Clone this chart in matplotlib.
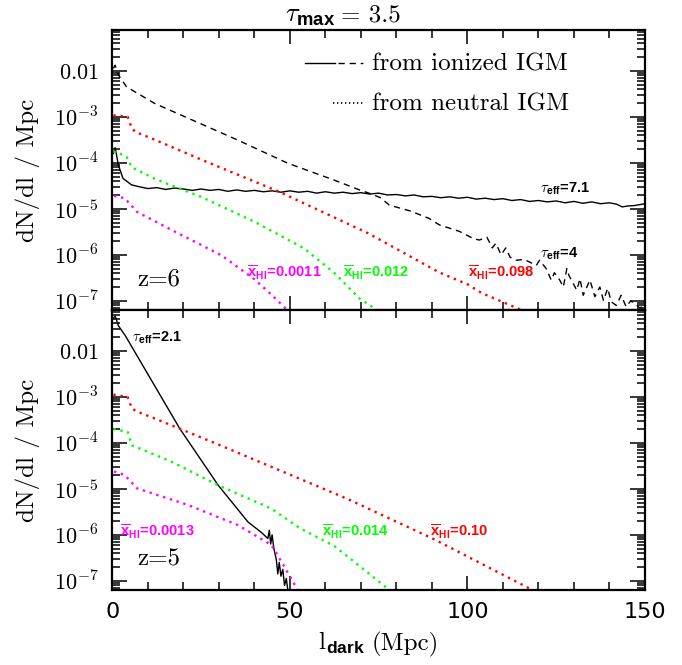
import numpy as np
import matplotlib
matplotlib.use('Agg')
import matplotlib.pyplot as plt
from matplotlib.lines import Line2D
from matplotlib.ticker import MultipleLocator, FixedLocator, FuncFormatter, NullFormatter

plt.rcParams['mathtext.fontset'] = 'cm'

W, H = 682, 665

# ---- z = 6 panel (log10 dN/dl) ----
L6_ION_TAU4 = [0.3, 0.8, 1.7, 4.0, 11.9, 21.3, 35.4, 49.4, 62.6, 69.6, 73.0, 75.5,
               78.0, 84.0, 89.2, 92.1, 97.7, 101.5, 103.3, 105.5, 107.0, 108.0, 109.5,
               110.8, 112.0, 113.6, 116.0, 119.4, 120.3, 122.2, 123.6, 124.5, 126.0,
               127.0, 128.0, 128.6, 130.8, 131.7, 132.6, 134.5, 135.9, 137.3, 138.3,
               139.5, 140.5, 141.9, 143.3, 144.7, 146.0, 147.0, 148.5, 150.0]
Y6_ION_TAU4 = [-1.95, -1.88, -2.09, -2.35, -2.71, -3.03, -3.51, -4.01, -4.38, -4.59,
               -4.68, -4.76, -4.92, -5.05, -5.21, -5.35, -5.49, -5.64, -5.68, -5.62,
               -5.85, -5.75, -6.00, -5.85, -6.05, -6.12, -6.10, -6.23, -6.12, -6.30,
               -6.55, -6.39, -6.55, -6.70, -6.30, -6.45, -6.77, -6.52, -6.88, -6.55,
               -6.91, -6.70, -6.99, -6.73, -7.02, -7.10, -6.88, -7.13, -7.00, -7.06,
               -7.15, -7.12]

L6_ION_TAU71 = [0.3, 0.8, 1.7, 3.0, 5.4, 7.5, 10, 12.5, 15, 17.5, 20, 22.5, 25, 27.5,
                30, 32.5, 35, 37.5, 40, 42.5, 45, 47.5, 50, 52.5, 55, 57.5, 60, 62.5,
                65, 67.5, 70, 72.5, 75, 77.5, 80, 82.5, 85, 87.5, 90, 92.5, 95, 97.5,
                100, 102.5, 105, 107.5, 110, 112.5, 115, 117.5, 120, 122.5, 125, 127.5,
                130, 132.5, 135, 137.5, 140, 142, 143.6, 145, 147, 150]
Y6_ION_TAU71 = [-3.80, -3.67, -4.05, -4.34, -4.48, -4.52, -4.56, -4.54, -4.58, -4.55,
                -4.57, -4.60, -4.57, -4.60, -4.58, -4.62, -4.59, -4.62, -4.60, -4.63,
                -4.61, -4.64, -4.61, -4.64, -4.62, -4.66, -4.63, -4.66, -4.64, -4.67,
                -4.65, -4.68, -4.66, -4.70, -4.69, -4.72, -4.70, -4.74, -4.73, -4.76,
                -4.74, -4.77, -4.75, -4.79, -4.77, -4.80, -4.78, -4.82, -4.80, -4.84,
                -4.82, -4.85, -4.83, -4.87, -4.84, -4.88, -4.85, -4.89, -4.87, -4.90,
                -4.96, -4.94, -4.93, -4.89]

L6_RED = [0.3, 4.3, 5.5, 6.5, 12, 25, 47, 62, 72, 92, 100, 104, 114, 117]
Y6_RED = [-2.97, -3.00, -3.25, -3.33, -3.50, -3.93, -4.63, -5.17, -5.53, -6.38, -6.64,
          -6.83, -7.16, -7.25]

L6_GREEN = [0.3, 1.0, 4.0, 5.5, 12, 19.9, 25, 40, 54, 62.6, 69.6, 74.4, 76]
Y6_GREEN = [-3.76, -3.76, -3.87, -4.10, -4.35, -4.59, -4.74, -5.28, -5.86, -6.40,
            -6.95, -7.19, -7.25]

L6_MAG = [0.5, 3.5, 7.0, 16.7, 30.7, 35, 40, 45, 49.5]
Y6_MAG = [-4.72, -4.77, -5.07, -5.46, -6.01, -6.25, -6.53, -6.88, -7.22]

# ---- z = 5 panel ----
L5_ION = [0.2, 0.8, 1.7, 3.6, 19, 29.8, 38.2, 42, 43.8, 44.2, 44.6, 45.0, 45.5,
          46.2, 46.6, 47.0, 47.5, 48.0, 48.5, 49.0, 49.5]
Y5_ION = [-1.30, -1.24, -1.45, -1.66, -3.69, -4.92, -5.72, -5.95, -6.08, -5.90,
          -6.20, -6.00, -6.30, -6.55, -6.85, -6.60, -6.90, -6.75, -7.10, -6.95, -7.25]

L5_RED = [0.3, 4.3, 5.5, 7, 12, 30, 62.6, 66.8, 90.2, 118.3, 120]
Y5_RED = [-2.95, -3.00, -3.25, -3.32, -3.47, -4.04, -5.10, -5.24, -6.08, -7.20, -7.26]

L5_GREEN = [0.3, 4.3, 5.5, 16.7, 29.8, 44.8, 52.7, 62.6, 70, 78, 79]
Y5_GREEN = [-3.70, -3.76, -4.05, -4.41, -4.92, -5.43, -5.85, -6.25, -6.70, -7.20, -7.26]

L5_MAG = [0.5, 3.5, 7.0, 21.3, 35.4, 44.8, 48.5, 52.2]
Y5_MAG = [-4.62, -4.70, -4.99, -5.35, -5.79, -6.22, -6.70, -7.20]

XTICKS = [0, 50, 100, 150]
YDECADES = [-7, -6, -5, -4, -3, -2]
YLIM = (10 ** -7.2, 10 ** -1.109)

RED, GREEN, MAG = '#ff0000', '#00ff00', '#ff00ff'
DOT = (0, (1, 2))
DASH = (0, (4.5, 3.5))


def ylab(v, pos):
    e = int(round(np.log10(v)))
    if e == -2:
        return r'$0.01$'
    return r'$10^{%d}$' % e


def style(ax, show_x):
    ax.set_xlim(0, 150)
    ax.set_yscale('log')
    ax.set_ylim(*YLIM)
    ax.xaxis.set_major_locator(FixedLocator(XTICKS))
    ax.xaxis.set_minor_locator(MultipleLocator(10))
    ax.yaxis.set_major_locator(FixedLocator([10.0 ** e for e in YDECADES]))
    minors = [m * 10.0 ** e for e in [-8] + YDECADES for m in range(2, 10)]
    minors = [v for v in minors if YLIM[0] <= v <= YLIM[1]]
    ax.yaxis.set_minor_locator(FixedLocator(minors))
    ax.yaxis.set_major_formatter(FuncFormatter(ylab))
    ax.yaxis.set_minor_formatter(NullFormatter())
    ax.tick_params(which='both', direction='in', top=True, right=True, width=1.1)
    ax.tick_params(axis='x', which='major', length=10, labelsize=16, pad=9)
    ax.tick_params(axis='x', which='minor', length=5.5)
    ax.tick_params(axis='y', which='major', length=11, labelsize=16, pad=10)
    ax.tick_params(axis='y', which='minor', length=5.5)
    if not show_x:
        ax.tick_params(axis='x', labelbottom=False)
    for s in ax.spines.values():
        s.set_linewidth(1.6)


def ftext(px, py, s, **kw):
    return fig.text(px / W, 1 - py / H, s, **kw)


fig = plt.figure(figsize=(6.82, 6.65), dpi=100)
ax1 = fig.add_axes([0.1647, 0.5338, 0.7810, 0.4215])
ax2 = fig.add_axes([0.1647, 0.1128, 0.7810, 0.4210])

p = lambda v: 10 ** np.asarray(v)

ax1.plot(L6_ION_TAU71, p(Y6_ION_TAU71), color='k', lw=1.0)
ax1.plot(L6_ION_TAU4, p(Y6_ION_TAU4), color='k', lw=1.0, ls=DASH)
ax1.plot(L6_RED, p(Y6_RED), color=RED, lw=1.7, ls=DOT)
ax1.plot(L6_GREEN, p(Y6_GREEN), color=GREEN, lw=1.7, ls=DOT)
ax1.plot(L6_MAG, p(Y6_MAG), color=MAG, lw=1.7, ls=DOT)
style(ax1, False)

ax2.plot(L5_ION, p(Y5_ION), color='k', lw=1.0)
ax2.plot(L5_RED, p(Y5_RED), color=RED, lw=1.7, ls=DOT)
ax2.plot(L5_GREEN, p(Y5_GREEN), color=GREEN, lw=1.7, ls=DOT)
ax2.plot(L5_MAG, p(Y5_MAG), color=MAG, lw=1.7, ls=DOT)
style(ax2, True)

# title, axis labels (subscripts in bold sans as in the original)
bsans = dict(family='Liberation Sans', fontweight='bold')
ftext(285, 22, r'$\tau_{\mathdefault{max}}$', fontsize=19, va='baseline', **bsans)
ftext(341, 22, '= 3.5', family='cmr10', fontsize=18, va='baseline')
ftext(318, 650, r'$\mathrm{l}_{\mathdefault{dark}}$', fontsize=18, va='baseline', **bsans)
ftext(372, 650, '(Mpc)', family='cmr10', fontsize=18, va='baseline')
for yc in (170, 450):
    ftext(28, yc, 'dN/dl / Mpc', family='cmr10', fontsize=18, rotation=90,
          va='center', ha='center')

# legend
fig.add_artist(Line2D([305 / W, 335 / W], [1 - 63 / H] * 2, color='k', lw=1.0))
fig.add_artist(Line2D([338 / W, 363 / W], [1 - 63 / H] * 2, color='k', lw=1.0, ls=DASH))
fig.add_artist(Line2D([333 / W, 363 / W], [1 - 103 / H] * 2, color='k', lw=1.2,
                      ls=(0, (0.8, 1.6))))
ftext(372, 70.5, 'from ionized IGM', family='cmr10', fontsize=18, va='baseline')
ftext(372, 110.5, 'from neutral IGM', family='cmr10', fontsize=18, va='baseline')

# redshift labels
ftext(137, 285, 'z=6', family='cmr10', fontsize=18, va='baseline')
ftext(137, 565, 'z=5', family='cmr10', fontsize=18, va='baseline')

# annotations
ann = dict(family='Liberation Sans', fontweight='bold', fontsize=10.5, va='baseline')
TAU = r'$\tau_{\mathdefault{eff}}$'
XHI = r'$\overline{\mathdefault{x}}_{\mathdefault{HI}}$'
ftext(540, 193, TAU + '=7.1', color='k', **ann)
ftext(540, 258, TAU + '=4', color='k', **ann)
ftext(468, 278, XHI + '=0.098', color=RED, **ann)
ftext(343, 278, XHI + '=0.012', color=GREEN, **ann)
ftext(247, 278, XHI + '=0.0011', color=MAG, **ann)
ftext(132, 342, TAU + '=2.1', color='k', **ann)
ftext(120, 536.5, XHI + '=0.0013', color=MAG, **ann)
ftext(322, 536.5, XHI + '=0.014', color=GREEN, **ann)
ftext(430, 536.5, XHI + '=0.10', color=RED, **ann)

fig.savefig('out.png', dpi=100)
